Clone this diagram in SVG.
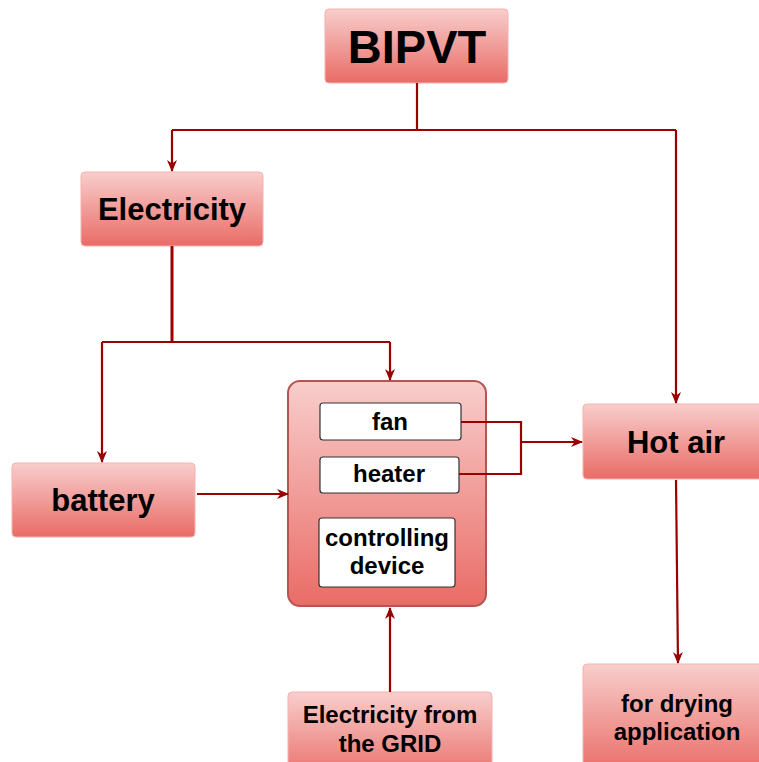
<svg xmlns="http://www.w3.org/2000/svg" width="759" height="762" viewBox="0 0 759 762">
<defs>
<linearGradient id="g" x1="0" y1="0" x2="0" y2="1">
<stop offset="0" stop-color="#f8cecc"/>
<stop offset="1" stop-color="#ea6b66"/>
</linearGradient>
<marker id="ah" viewBox="0 0 12 10" refX="11" refY="5" markerWidth="12" markerHeight="10" markerUnits="userSpaceOnUse" orient="auto">
<path d="M0,0 L12,5 L0,10 L3.5,5 z" fill="#990000"/>
</marker>
<style>
.box{fill:url(#g);stroke:#f3b3b0;stroke-width:1}
.cont{fill:url(#g);stroke:#b85450;stroke-width:2}
.inner{fill:#ffffff;stroke:#333333;stroke-width:1.2}
.c{fill:none;stroke:#990000;stroke-width:2.2}
.t{font-family:"Liberation Sans",Arial,sans-serif;font-weight:bold;fill:#000;text-anchor:middle}
.big{font-size:31px}
.sm{font-size:24px}
</style>
</defs>
<rect width="759" height="762" fill="#ffffff"/>
<g id="bipvt">
<rect class="box" x="325" y="9" width="183" height="74" rx="4"/>
<text class="t" x="417" y="63" style="font-size:47px">BIPVT</text>
</g>
<g id="electricity">
<rect class="box" x="81" y="172" width="182" height="74" rx="4"/>
<text class="t big" x="172" y="220">Electricity</text>
</g>
<g id="battery">
<rect class="box" x="12" y="463" width="183" height="74" rx="4"/>
<text class="t big" x="103" y="511">battery</text>
</g>
<g id="container">
<rect class="cont" x="288" y="381" width="198" height="225" rx="12"/>
</g>
<g id="fan">
<rect class="inner" x="320" y="403" width="141" height="37" rx="3"/>
<text class="t sm" x="390" y="430">fan</text>
</g>
<g id="heater">
<rect class="inner" x="320" y="457" width="139" height="36" rx="3"/>
<text class="t sm" x="389" y="482">heater</text>
</g>
<g id="controlling">
<rect class="inner" x="319" y="518" width="136" height="69" rx="3"/>
<text class="t sm" x="387" y="546">controlling</text>
<text class="t sm" x="387" y="574">device</text>
</g>
<g id="hotair">
<rect class="box" x="583" y="404" width="186" height="75" rx="4"/>
<text class="t big" x="676" y="453">Hot air</text>
</g>
<g id="drying">
<rect class="box" x="583" y="664" width="186" height="110" rx="4"/>
<text class="t sm" x="677" y="712">for drying</text>
<text class="t sm" x="677" y="740">application</text>
</g>
<g id="grid">
<rect class="box" x="288" y="692" width="204" height="90" rx="4"/>
<text class="t sm" x="390" y="723">Electricity from</text>
<text class="t sm" x="390" y="752">the GRID</text>
</g>
<g id="connectors">
<path class="c" d="M417,83 V130"/>
<path class="c" d="M172,130 H676"/>
<path class="c" d="M172,130 V171" marker-end="url(#ah)"/>
<path class="c" d="M676,130 V403" marker-end="url(#ah)"/>
<path class="c" d="M172,246 V342" style="stroke-width:3"/>
<path class="c" d="M102,342 H390"/>
<path class="c" d="M102,342 V462" marker-end="url(#ah)"/>
<path class="c" d="M390,342 V380" marker-end="url(#ah)"/>
<path class="c" d="M197,494 H288" marker-end="url(#ah)"/>
<path class="c" d="M461,422 H521 V474 H459"/>
<path class="c" d="M521,442 H582" marker-end="url(#ah)"/>
<path class="c" d="M676,480 L678,663" marker-end="url(#ah)"/>
<path class="c" d="M390,692 V608" marker-end="url(#ah)"/>
</g>
</svg>
